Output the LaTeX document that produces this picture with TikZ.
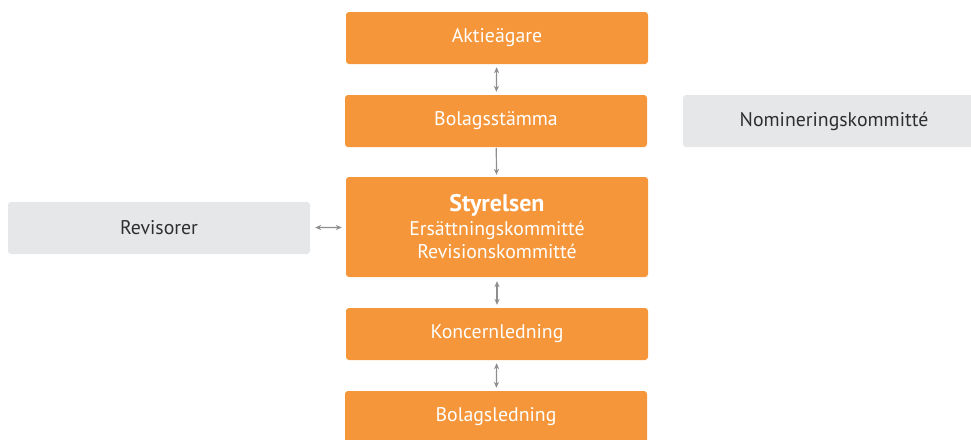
\documentclass[tikz,border=0pt]{standalone}
\usepackage{fontspec}
\setmainfont{PT Sans}
\usetikzlibrary{arrows.meta}
\definecolor{ChartOrange}{HTML}{F5963A}
\definecolor{ChartGrey}{HTML}{E6E7E8}
\definecolor{ChartLink}{HTML}{8E8E8E}
\definecolor{ChartInk}{HTML}{2F2F2F}
\tikzset{
    chart/diagram/.style={
        x=1pt, y=-1pt,
        font=\fontsize{19.8}{23.5}\selectfont,
        line cap=round,
        line join=round
    },
    chart/box/.style={
        rectangle, rounded corners=3pt, draw=none,
        minimum width=302pt, minimum height=52pt,
        inner sep=0pt, align=center
    },
    chart/main/.style={chart/box, fill=ChartOrange, text=white},
    chart/side/.style={chart/box, fill=ChartGrey, text=ChartInk},
    chart/link/.style={
        draw=ChartLink, line width=1.2pt,
        -{Stealth[length=2.1mm, width=1.8mm]}
    },
    chart/both/.style={
        draw=ChartLink, line width=1.2pt,
        {Stealth[length=2.1mm, width=1.8mm]}-{Stealth[length=2.1mm, width=1.8mm]}
    }
}
\begin{document}
\begin{tikzpicture}[chart/diagram]
    \useasboundingbox (0,0) rectangle (971,439);
    \clip (0,0) rectangle (971,439);
    \node[chart/main] (owners) at (497,38) {Aktieägare};
    \node[chart/main] (agm) at (496,121) {Bolagsstämma};
    \node[chart/main, minimum height=100pt] (board) at (497,227)
        {{\fontsize{24}{26}\selectfont\bfseries Styrelsen}\\
         Ersättningskommitté\\Revisionskommitté};
    \node[chart/main] (group) at (497,334) {Koncernledning};
    \node[chart/main] (company) at (496,417) {Bolagsledning};

    \node[chart/side] (nomination) at (834,121) {Nomineringskommitté};
    \node[chart/side] (auditors) at (159,228) {Revisorer};

    \draw[chart/both, shorten <=3pt, shorten >=3pt] (owners) -- (agm);
    \draw[chart/link, shorten <=1pt, shorten >=2pt] (agm) -- (board);
    \draw[chart/both, shorten <=4pt, shorten >=3pt] (board) -- (group);
    \draw[chart/both, shorten <=3pt, shorten >=3pt] (group) -- (company);
    \draw[chart/both, shorten <=5pt, shorten >=4pt] (auditors) -- (board);
\end{tikzpicture}
\end{document}
